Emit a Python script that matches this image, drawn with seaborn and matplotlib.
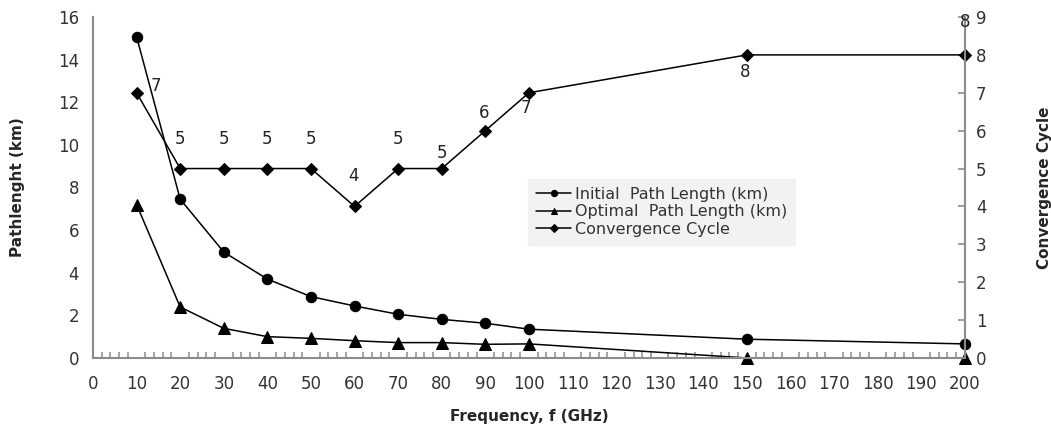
import pandas as pd
import matplotlib.pyplot as plt
import seaborn as sns
from matplotlib.ticker import MultipleLocator

# values
freq = [10, 20, 30, 40, 50, 60, 70, 80, 90, 100, 150, 200]
initial_path = [15.07, 7.45, 4.97, 3.7, 2.88, 2.44, 2.05, 1.81, 1.63, 1.35, 0.88, 0.66]
optimal_path = [7.2, 2.39, 1.39, 1.0, 0.92, 0.81, 0.72, 0.72, 0.64, 0.66, 0.0, 0.0]
conv_cycle = [7, 5, 5, 5, 5, 4, 5, 5, 6, 7, 8, 8]

series_names = ["Initial  Path Length (km)", "Optimal  Path Length (km)", "Convergence Cycle"]

df = pd.DataFrame({"freq": freq, "initial": initial_path,
                   "optimal": optimal_path, "conv": conv_cycle})

sns.set_style("white")
plt.rcParams["font.family"] = ["DejaVu Sans"]

fig = plt.figure(figsize=(10.51, 4.36), dpi=100)
ax = fig.add_axes([0.0885, 0.179, 0.8295, 0.782])
ax2 = ax.twinx()

sns.lineplot(data=df, x="freq", y="initial", ax=ax, color="black", lw=1.1, clip_on=False,
             marker="o", markersize=7.5, markeredgecolor="black", label=series_names[0], legend=False)
sns.lineplot(data=df, x="freq", y="optimal", ax=ax, color="black", lw=1.1, clip_on=False,
             marker="^", markersize=8, markeredgecolor="black", label=series_names[1], legend=False)
sns.lineplot(data=df, x="freq", y="conv", ax=ax2, color="black", lw=1.1, clip_on=False,
             marker="D", markersize=6.5, markeredgecolor="black", label=series_names[2], legend=False)

# data labels on the convergence series (offsets in points)
label_offsets = [(14, 5), (0, 21), (0, 21), (0, 21), (0, 21), (-1, 22),
                 (0, 21), (0, 11), (-1, 13), (-2, -11), (-1, -12), (0, 24)]
for f, c, (dx, dy) in zip(freq, conv_cycle, label_offsets):
    ax2.annotate(str(c), (f, c), xytext=(dx, dy), textcoords="offset points",
                 ha="center", va="center", fontsize=12, color="#222222")

grey = "#8c8c8c"
ax.set_xlim(0, 200)
ax.set_ylim(0, 16)
ax2.set_ylim(0, 9)
ax.xaxis.set_major_locator(MultipleLocator(10))
ax.xaxis.set_minor_locator(MultipleLocator(2))
ax.yaxis.set_major_locator(MultipleLocator(2))
ax2.yaxis.set_major_locator(MultipleLocator(1))

for a in (ax, ax2):
    for s in a.spines.values():
        s.set_visible(False)
for a, side in ((ax, "bottom"), (ax, "left"), (ax2, "right")):
    a.spines[side].set_visible(True)
    a.spines[side].set_color(grey)
    a.spines[side].set_linewidth(1.5)

ax.tick_params(axis="x", which="major", direction="out", length=6, width=1.3, color=grey,
               labelsize=12, labelcolor="#333333", pad=6)
ax.tick_params(axis="x", which="minor", direction="in", length=4, width=1.1, color=grey, bottom=True)
ax.tick_params(axis="y", length=0, labelsize=12, labelcolor="#333333", pad=10)
ax2.tick_params(axis="y", direction="in", length=5, width=1.2, color=grey,
                labelsize=12, labelcolor="#333333", pad=8)

ax.set_xlabel("Frequency, f (GHz)", fontsize=11, fontweight="bold", labelpad=12)
ax.set_ylabel("Pathlenght (km)", fontsize=11, fontweight="bold", labelpad=24)
ax2.set_ylabel("Convergence Cycle", fontsize=11, fontweight="bold", labelpad=36)

h1, l1 = ax.get_legend_handles_labels()
h2, l2 = ax2.get_legend_handles_labels()
leg = ax2.legend(h1 + h2, l1 + l2, loc="upper left", bbox_to_anchor=(0.49, 0.548),
                 fontsize=11.5, frameon=True, fancybox=False, markerscale=0.6,
                 handlelength=2.2, handletextpad=0.2, labelspacing=0.15,
                 borderpad=0.5, facecolor="#f2f2f2", edgecolor="#f2f2f2", framealpha=1)
for t in leg.get_texts():
    t.set_color("#333333")

fig.savefig("out.png", dpi=100)
